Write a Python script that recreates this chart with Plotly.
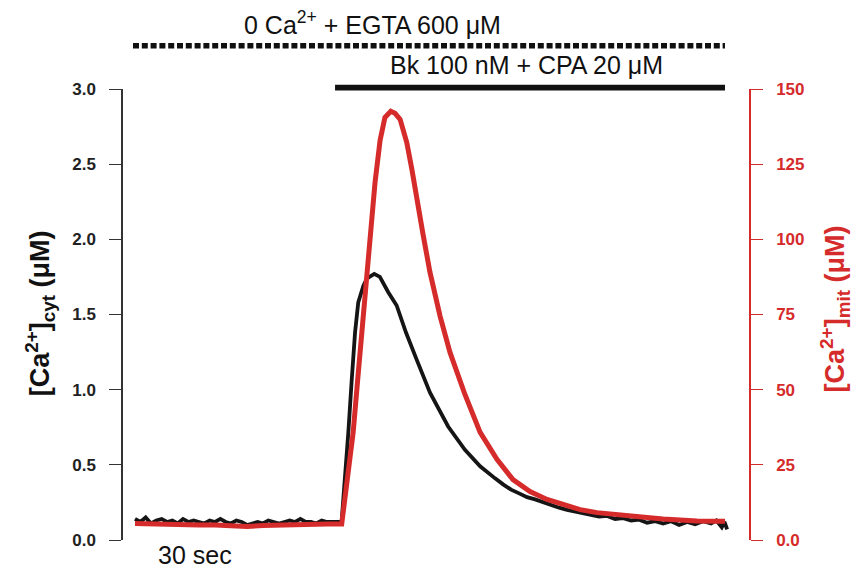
import plotly.graph_objects as go

# ---- cytosolic Ca2+ (uM), left axis ----
cyt_time = [0, 2, 4, 6, 8, 10, 12, 14, 16, 18, 20, 22, 24, 26, 28, 30, 32, 34, 36, 38,
            40, 42, 44, 46, 48, 50, 52, 54, 56, 58, 60, 62, 64, 66, 68, 70, 72, 74, 76,
            77.5, 78.7, 80.0, 81.2, 82.5, 83.7, 85.6, 87.0, 89.7, 91.8, 94.9, 98.1,
            101.6, 105.6, 110.6, 117.4, 123.7, 129.4,
            132, 135, 138, 141, 144, 147, 150, 153, 156, 159, 162, 165, 168, 171, 174,
            177, 180, 183, 186, 189, 192, 195, 198, 201, 204, 207, 210, 213, 216, 218,
            220, 221, 222]
cyt_conc = [0.14, 0.12, 0.15, 0.11, 0.13, 0.14, 0.12, 0.13, 0.11, 0.14, 0.12, 0.13, 0.12,
            0.11, 0.13, 0.12, 0.14, 0.12, 0.11, 0.13, 0.12, 0.10, 0.11, 0.12, 0.11, 0.13,
            0.12, 0.11, 0.12, 0.13, 0.12, 0.14, 0.12, 0.12, 0.11, 0.13, 0.12, 0.12, 0.12,
            0.13, 0.38, 0.72, 1.05, 1.38, 1.58, 1.69, 1.74, 1.77, 1.75, 1.65, 1.56,
            1.38, 1.20, 0.98, 0.755, 0.60, 0.49,
            0.45, 0.41, 0.37, 0.335, 0.31, 0.285, 0.27, 0.25, 0.235, 0.215, 0.20, 0.19,
            0.175, 0.17, 0.155, 0.16, 0.14, 0.145, 0.13, 0.135, 0.115, 0.125, 0.11, 0.125,
            0.10, 0.12, 0.105, 0.125, 0.11, 0.13, 0.085, 0.12, 0.07]

# ---- mitochondrial Ca2+ (uM), right axis ----
mit_time = [0, 6, 12, 18, 24, 30, 36, 42, 48, 54, 60, 66, 72, 77.5,
            78.7, 80.2, 81.8, 83.4, 85.0, 86.2, 87.4, 88.7, 90.0, 91.9, 93.7, 95.9,
            97.5, 99.4, 101.9, 103.8, 105.6, 108.0, 110.6, 114.4, 118.1, 123.7, 129.4,
            135.7, 141.7, 148.1, 154.5, 160.5, 166.9, 173.2, 179.2, 185.6, 192, 198,
            204.4, 210.7, 216.7, 221.2]
mit_conc = [5.5, 5.3, 5.2, 5.2, 5.0, 5.0, 4.8, 4.5, 4.8, 5.0, 5.1, 5.2, 5.3, 5.3,
            13.5, 24.5, 35.8, 52.4, 69.0, 83.0, 96.6, 108.0, 119.0, 133.0, 140.5, 142.6,
            141.9, 139.9, 132.2, 123.3, 113.3, 101.6, 89.0, 74.4, 62.4, 48.4, 35.8,
            26.8, 20.1, 16.1, 13.5, 11.8, 10.1, 9.1, 8.5, 7.8, 7.5, 7.0,
            6.5, 6.3, 6.2, 6.2]

# ---- treatment periods (s) ----
egta_period = [-0.75, 221.2]
bk_cpa_period = [75.0, 221.2]

left_ticks = [0, 0.5, 1.0, 1.5, 2.0, 2.5, 3.0]
left_ticklabels = ["0.0", "0.5", "1.0", "1.5", "2.0", "2.5", "3.0"]
right_ticks = [0, 25, 50, 75, 100, 125, 150]
right_ticklabels = ["0.0", "25", "50", "75", "100", "125", "150"]

RED = "#d52b2b"
FONT = "Liberation Sans, Arial, sans-serif"

fig = go.Figure()
fig.add_trace(go.Scatter(x=mit_time, y=mit_conc, mode="lines", yaxis="y2",
                         line=dict(color=RED, width=5), showlegend=False))
fig.add_trace(go.Scatter(x=cyt_time, y=cyt_conc, mode="lines", yaxis="y",
                         line=dict(color="#151515", width=3.8), showlegend=False))

fig.update_layout(
    width=858, height=571,
    margin=dict(l=123, r=109, t=89, b=31),
    paper_bgcolor="white", plot_bgcolor="white",
    font=dict(family=FONT),
    xaxis=dict(visible=False, range=[-4.5, 230.2], fixedrange=True),
    yaxis=dict(range=[0, 3], tickvals=left_ticks, ticktext=left_ticklabels,
               ticks="outside", ticklen=12, tickwidth=1.2, tickcolor="#333",
               showline=True, linewidth=1.5, linecolor="#333", showgrid=False,
               zeroline=False, ticklabelstandoff=10,
               tickfont=dict(size=17, color="#222", family=FONT, weight="bold")),
    yaxis2=dict(range=[0, 150], overlaying="y", side="right",
                tickvals=right_ticks, ticktext=right_ticklabels,
                ticks="outside", ticklen=12, tickwidth=1.2, tickcolor=RED,
                showline=True, linewidth=1.5, linecolor=RED, showgrid=False,
                zeroline=False, ticklabelstandoff=10,
                tickfont=dict(size=17, color=RED, family=FONT, weight="bold")),
)

# protocol bars
fig.add_shape(type="line", xref="x", yref="paper",
              x0=egta_period[0], x1=egta_period[1], y0=1.096, y1=1.096,
              line=dict(color="#111", width=5.5, dash="6px,2.8px"))
fig.add_shape(type="line", xref="x", yref="paper",
              x0=bk_cpa_period[0], x1=bk_cpa_period[1], y0=1.003, y1=1.003,
              line=dict(color="#111", width=5.7))

fig.add_annotation(text="0 Ca<sup>2+</sup> + EGTA 600 μM", xref="paper", yref="paper",
                   x=0.398, y=1.146, showarrow=False, xanchor="center", yanchor="middle",
                   font=dict(size=25, color="#111", family=FONT))
fig.add_annotation(text="Bk 100 nM + CPA 20 μM", xref="paper", yref="paper",
                   x=0.644, y=1.054, showarrow=False, xanchor="center", yanchor="middle",
                   font=dict(size=25, color="#111", family=FONT))
fig.add_annotation(text="30 sec", xref="paper", yref="paper",
                   x=0.115, y=-0.034, showarrow=False, xanchor="center", yanchor="middle",
                   font=dict(size=25, color="#111", family=FONT))

# axis titles
fig.add_annotation(text="[Ca<sup>2+</sup>]<sub>cyt</sub> (μM)", xref="paper", yref="paper",
                   x=-0.133, y=0.502, showarrow=False, textangle=-90,
                   xanchor="center", yanchor="middle",
                   font=dict(size=27, color="#111", family=FONT, weight="bold"))
fig.add_annotation(text="[Ca<sup>2+</sup>]<sub>mit</sub> (μM)", xref="paper", yref="paper",
                   x=1.137, y=0.513, showarrow=False, textangle=-90,
                   xanchor="center", yanchor="middle",
                   font=dict(size=27, color=RED, family=FONT, weight="bold"))

fig.write_html("out.html")
